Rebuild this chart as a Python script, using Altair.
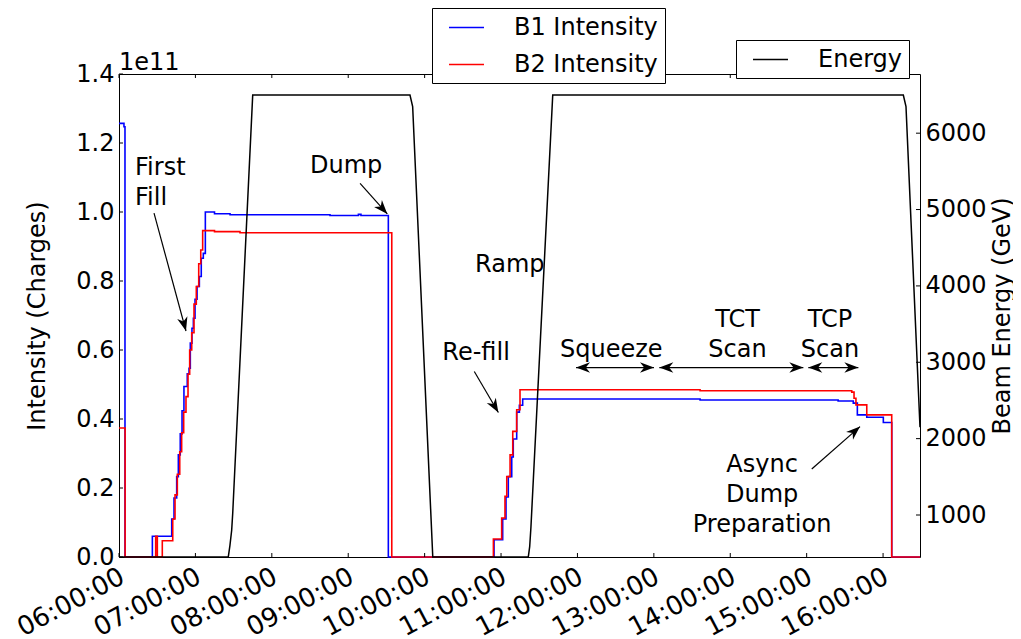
import math
import altair as alt
import pandas as pd

# ---------------- data ----------------
BASE = pd.Timestamp("2015-04-10 06:00:00")

# beam intensities in units of 1e11 charges, time in minutes after 06:00
b1_minutes = [0, 3.9, 4.7, 26.2, 41.4, 43.2, 45.3, 46.6, 48.1, 49.5, 51.0, 53.6, 55.0,
              56.0, 57.3, 58.4, 59.7, 61.3, 63.1, 64.6, 66.2, 67.8, 75.0, 87.2, 165.7,
              188.0, 190.0, 211.5, 294.5, 301.3, 303.9, 305.7, 308.4, 309.6, 312.3, 314.4,
              317.0, 456.3, 564.7, 576.6, 579.8, 587.2, 600.2, 606.8, 629.0]
b1_intensity = [1.257, 1.247, 0.0, 0.06, 0.11, 0.171, 0.233, 0.296, 0.357, 0.424, 0.494,
                0.531, 0.547, 0.62, 0.663, 0.692, 0.747, 0.784, 0.813, 0.866, 0.88, 1.0,
                0.995, 0.992, 0.99, 0.993, 0.99, 0.0, 0.05, 0.11, 0.174, 0.233, 0.29,
                0.342, 0.42, 0.44, 0.458, 0.455, 0.452, 0.446, 0.412, 0.405, 0.39, 0.0, 0.0]

b2_minutes = [0, 4.8, 28.8, 30.1, 34.0, 42.2, 44.0, 45.8, 47.7, 49.2, 50.8, 52.6, 54.2,
              55.5, 57.1, 58.9, 60.7, 62.6, 64.2, 65.7, 75.0, 95.0, 214.2, 294.0, 300.5,
              303.1, 304.5, 307.1, 309.2, 312.3, 314.9, 456.3, 575.4, 577.2, 578.7, 587.2,
              606.8, 629.0]
b2_intensity = [0.374, 0.0, 0.06, 0.0, 0.047, 0.11, 0.18, 0.24, 0.305, 0.36, 0.42, 0.465,
                0.53, 0.6, 0.65, 0.733, 0.784, 0.85, 0.89, 0.946, 0.943, 0.94, 0.0, 0.052,
                0.113, 0.176, 0.233, 0.296, 0.364, 0.427, 0.485, 0.482, 0.478, 0.46, 0.441,
                0.412, 0.0, 0.0]

energy_minutes = [0, 85.8, 87.1, 88.5, 89.3, 105.0, 228.5, 230.6, 246.4, 321.4, 322.5,
                  323.5, 340.6, 615.9, 618.0, 629.0]
energy_gev = [450, 450, 600, 803, 1022, 6500, 6500, 6349, 450, 450, 585, 847, 6500, 6500,
              6349, 2150]

series_names = ["B1 Intensity", "B2 Intensity"]
series_colors = ["#0000ff", "#ff0000"]

x_tick_hours = [6, 7, 8, 9, 10, 11, 12, 13, 14, 15, 16]
left_ticks = [0.0, 0.2, 0.4, 0.6, 0.8, 1.0, 1.2, 1.4]
right_ticks = [1000, 2000, 3000, 4000, 5000, 6000]

ann_text = ["1e11", "First\nFill", "Dump", "Ramp", "Re-fill", "Squeeze",
            "TCT\nScan", "TCP\nScan", "Async\nDump\nPreparation"]
ann_minutes = [0.0, 12.6, 150.0, 279.6, 253.9, 346.3, 485.7, 558.3, 505.0]
ann_values = [1.4116, 1.108, 1.113, 0.827, 0.5716, 0.581, 0.668, 0.668, 0.247]
ann_align = ["left", "left", "left", "left", "left", "left", "center", "center", "center"]

arrow_t0 = [27.5, 189.3, 279.0, 358.9, 424.3, 541.3, 544.0]
arrow_v0 = [0.997, 1.083, 0.5377, 0.549, 0.549, 0.549, 0.255]
arrow_t1 = [52.6, 210.7, 297.9, 420.1, 537.4, 580.6, 581.9]
arrow_v1 = [0.655, 0.9945, 0.419, 0.549, 0.549, 0.549, 0.378]
arrow_both = [False, False, False, True, True, True, False]

# ---------------- layout constants ----------------
W, H = 801, 483
X_END = 629.0
Y_MAX = 1.4
E_MIN, E_MAX = 450, 6775
TICK_PX = 4
FONT = "DejaVu Sans"
FS = 24

PX_PER_MIN = W / X_END
PX_PER_UNIT = H / Y_MAX


def ts(m):
    return BASE + pd.Timedelta(minutes=m)


def dt(m):
    t = ts(m)
    return alt.DateTime(year=t.year, month=t.month, date=t.day, hours=t.hour,
                        minutes=t.minute, seconds=t.second)


# ---------------- tables ----------------
inten = pd.DataFrame({
    "time": [ts(m) for m in b1_minutes] + [ts(m) for m in b2_minutes],
    "v": b1_intensity + b2_intensity,
    "series": [series_names[0]] * len(b1_minutes) + [series_names[1]] * len(b2_minutes),
})
energy = pd.DataFrame({"time": [ts(m) for m in energy_minutes], "e": energy_gev,
                       "series": "Energy"})

tick_len_v = TICK_PX / PX_PER_UNIT
tick_len_t = TICK_PX / PX_PER_MIN
xt = [ts(60 * (h - 6)) for h in x_tick_hours]
xticks = pd.DataFrame({
    "time": xt + xt,
    "v": [0.0] * len(xt) + [Y_MAX - tick_len_v] * len(xt),
    "v2": [tick_len_v] * len(xt) + [Y_MAX] * len(xt),
})
lticks = pd.DataFrame({"time": ts(0), "time2": ts(tick_len_t), "v": left_ticks})
rticks = pd.DataFrame({"time": ts(X_END - tick_len_t), "time2": ts(X_END), "e": right_ticks})

ann = pd.DataFrame({"time": [ts(m) for m in ann_minutes], "v": ann_values,
                    "label": ann_text, "align": ann_align})

shafts = pd.DataFrame({"time": [ts(m) for m in arrow_t0], "v": arrow_v0,
                       "time2": [ts(m) for m in arrow_t1], "v2": arrow_v1})
heads_t, heads_v, heads_a = [], [], []
for t0, v0, t1, v1, both in zip(arrow_t0, arrow_v0, arrow_t1, arrow_v1, arrow_both):
    ang = math.degrees(math.atan2(-(v1 - v0) * PX_PER_UNIT, (t1 - t0) * PX_PER_MIN)) % 360
    heads_t.append(ts(t1)); heads_v.append(v1); heads_a.append(ang)
    if both:
        heads_t.append(ts(t0)); heads_v.append(v0); heads_a.append((ang + 180) % 360)
heads = pd.DataFrame({"time": heads_t, "v": heads_v, "ang": heads_a})

# ---------------- scales & axes ----------------
x_scale = alt.Scale(domain=[dt(0), dt(X_END)])
x_axis = alt.Axis(values=[dt(60 * (h - 6)) for h in x_tick_hours], format="%H:%M:%S",
                  labelAngle=332, labelAlign="right", labelBaseline="top", labelPadding=6,
                  labelOffset=-3, labelFontSize=26, labelFlush=False, labelOverlap=False)
y_scale = alt.Scale(domain=[0, Y_MAX], nice=False, zero=False)
y_axis = alt.Axis(values=left_ticks, format=".1f", labelPadding=5, labelFlush=False,
                  labelOverlap=False, title="Intensity (Charges)", titleAngle=270,
                  titleX=-82, titleY=H / 2, titleAlign="center", titleBaseline="middle")
e_scale = alt.Scale(domain=[E_MIN, E_MAX], nice=False, zero=False)
e_axis = alt.Axis(orient="right", values=right_ticks, format="d", labelPadding=5,
                  labelFlush=False, labelOverlap=False, title="Beam Energy (GeV)",
                  titleAngle=270, titleX=82, titleY=H / 2, titleAlign="center",
                  titleBaseline="middle")


def X(f="time"):
    return alt.X(f, type="temporal", scale=x_scale, axis=x_axis, title=None)


def Y(f="v"):
    return alt.Y(f, type="quantitative", scale=y_scale, axis=y_axis)


def E(f="e"):
    return alt.Y(f, type="quantitative", scale=e_scale, axis=e_axis)


legend_common = dict(orient="none", title=None, symbolType="M-1.458,0L1.458,0",
                     symbolSize=576, symbolStrokeWidth=1.5, symbolOffset=15,
                     labelOffset=34.5, labelFontSize=FS, labelFont=FONT,
                     labelColor="black", labelLimit=400, padding=6.5, rowPadding=12,
                     strokeColor="black", fillColor="white", cornerRadius=0)

# ---------------- layers ----------------
lines = alt.Chart(inten).mark_line(interpolate="step-after", strokeWidth=1.6).encode(
    x=X(), y=Y(),
    color=alt.Color("series:N", scale=alt.Scale(domain=series_names, range=series_colors),
                    legend=alt.Legend(legendX=313, legendY=-66, **legend_common)),
    order=alt.Order("idx:Q"),
).transform_window(idx="row_number()")

xtick_rules = alt.Chart(xticks).mark_rule(color="black", strokeWidth=1).encode(
    x=X(), y=Y(), y2=alt.Y2("v2"))
ltick_rules = alt.Chart(lticks).mark_rule(color="black", strokeWidth=1).encode(
    x=X(), x2=alt.X2("time2"), y=Y())

text_left = alt.Chart(ann).transform_filter(alt.datum.align == "left").mark_text(
    align="left", baseline="alphabetic", font=FONT, fontSize=FS, color="black",
    lineBreak="\n", lineHeight=30).encode(x=X(), y=Y(), text="label:N")
text_center = alt.Chart(ann).transform_filter(alt.datum.align == "center").mark_text(
    align="center", baseline="alphabetic", font=FONT, fontSize=FS, color="black",
    lineBreak="\n", lineHeight=30).encode(x=X(), y=Y(), text="label:N")

shaft_rules = alt.Chart(shafts).mark_rule(color="black", strokeWidth=1.2).encode(
    x=X(), y=Y(), x2=alt.X2("time2"), y2=alt.Y2("v2"))
head_marks = alt.Chart(heads).mark_point(
    shape="M0,0L-2,-0.75L-1.4,0L-2,0.75Z", filled=True, size=196, color="black",
    opacity=1, strokeWidth=0).encode(x=X(), y=Y(), angle=alt.Angle("ang:Q", scale=None))

left_group = alt.layer(lines, xtick_rules, ltick_rules, shaft_rules, head_marks,
                       text_left, text_center)

energy_line = alt.Chart(energy).mark_line(strokeWidth=1.5).encode(
    x=X(), y=E(),
    color=alt.Color("series:N", scale=alt.Scale(domain=["Energy"], range=["black"]),
                    legend=alt.Legend(legendX=617, legendY=-34, **legend_common)))
rtick_rules = alt.Chart(rticks).mark_rule(color="black", strokeWidth=1).encode(
    x=X(), x2=alt.X2("time2"), y=E())
energy_group = alt.layer(energy_line, rtick_rules)

chart = alt.layer(left_group, energy_group).resolve_scale(
    y="independent", color="independent"
).properties(
    width=W, height=H,
    padding={"left": 111, "top": 66, "right": 93, "bottom": 80},
    autosize=alt.AutoSizeParams(type="none"),
).configure(font=FONT).configure_view(
    stroke="black", strokeWidth=1
).configure_axis(
    labelFont=FONT, labelFontSize=FS, labelColor="black", titleFont=FONT,
    titleFontSize=FS, titleFontWeight="normal", titleColor="black",
    ticks=False, domain=False, grid=False,
)

chart.save("out.html", embed_options={"renderer": "svg", "actions": False})
